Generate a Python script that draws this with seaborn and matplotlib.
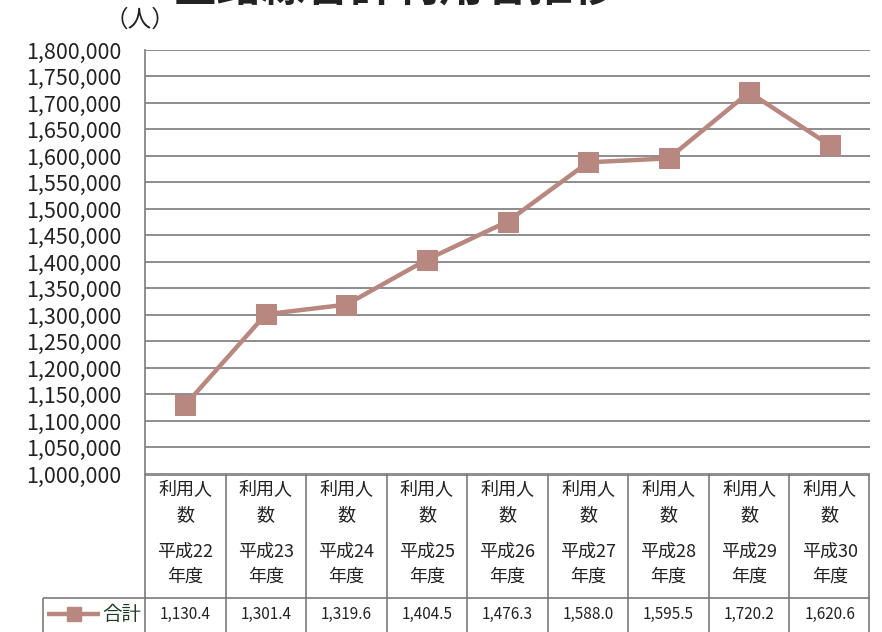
import matplotlib
matplotlib.use("Agg")
import matplotlib.pyplot as plt
from matplotlib.ticker import FuncFormatter
import seaborn as sns
import pandas as pd

# data
years = ["平成22\n年度", "平成23\n年度", "平成24\n年度", "平成25\n年度", "平成26\n年度",
         "平成27\n年度", "平成28\n年度", "平成29\n年度", "平成30\n年度"]
row_label = "利用人\n数"
riders = [1130400, 1301400, 1319600, 1404500, 1476300, 1588000, 1595500, 1720200, 1620600]
riders_text = ["1,130.4", "1,301.4", "1,319.6", "1,404.5", "1,476.3",
               "1,588.0", "1,595.5", "1,720.2", "1,620.6"]
y_ticks = list(range(1000000, 1800001, 50000))
series_name = "合計"
unit = "（人）"
title = "全路線合計利用者推移"

line_color = "#B8877F"
grid_color = "#858585"

sns.set_theme(style="white")
plt.rcParams['font.family'] = ['Noto Sans CJK JP', 'DejaVu Sans']

W, H = 882, 632
fig = plt.figure(figsize=(W / 100, H / 100), dpi=100)


def fx(px):
    return px / W


def fy(py):
    return 1 - py / H


# main plot
ax = fig.add_axes([fx(145), fy(474), (870 - 145) / W, (474 - 50) / H])
df = pd.DataFrame({"pos": range(len(riders)), "riders": riders})
sns.lineplot(data=df, x="pos", y="riders", marker="s", markersize=14, linewidth=3.2,
             color=line_color, markeredgecolor=line_color, ax=ax, zorder=3)
ax.set_xlim(-0.5, len(riders) - 0.5)
ax.set_ylim(y_ticks[0], y_ticks[-1])
ax.set_yticks(y_ticks)
ax.yaxis.set_major_formatter(FuncFormatter(lambda v, p: f"{int(v):,}"))
ax.tick_params(axis='y', length=0, pad=17, labelsize=15.5, labelcolor="#222222")
ax.set_xticks([])
ax.set_xlabel("")
ax.set_ylabel("")
ax.grid(axis='y', color=grid_color, linewidth=1.3)
for s in ["top", "right", "bottom"]:
    ax.spines[s].set_visible(False)
ax.spines["left"].set_color(grid_color)
ax.spines["left"].set_linewidth(1.3)

# data table under the plot
col_w = (870 - 145) / len(riders)
left_x = -0.5 - (145 - 42) / col_w
tab = fig.add_axes([fx(42), 0, (870 - 42) / W, (632 - 474) / H])
tab.set_xlim(left_x, len(riders) - 0.5)
tab.set_ylim(632, 474)
tab.axis("off")

tcol = "#7a7a7a"
tab.hlines(474.5, -0.5, len(riders) - 0.5, color=tcol, lw=1.2)
tab.hlines(598, left_x + 0.01, len(riders) - 0.5, color=tcol, lw=1.2)
for i in range(len(riders) + 1):
    xb = i - 0.5 if i < len(riders) else len(riders) - 0.51
    tab.vlines(xb, 474, 632, color=tcol, lw=1.2)
tab.vlines(left_x + 0.01, 598, 632, color=tcol, lw=1.2)

for i, (yr, txt) in enumerate(zip(years, riders_text)):
    tab.text(i, 503, row_label, ha="center", va="center", fontsize=13,
             linespacing=1.5, color="#222222")
    tab.text(i, 564, yr, ha="center", va="center", fontsize=13,
             linespacing=1.5, color="#222222")
    tab.text(i, 614, txt, ha="center", va="center", fontsize=11, color="#222222")

# legend key in the table
lx0 = -0.5 - (145 - 47) / col_w
lx1 = -0.5 - (145 - 100) / col_w
tab.plot([lx0, lx1], [614, 614], color=line_color, lw=3.2, solid_capstyle="butt")
tab.plot([(lx0 + lx1) / 2], [614], marker="s", markersize=10, color=line_color)
tab.text(lx1 + 0.03, 614, series_name, ha="left", va="center", fontsize=14,
         color="#1f3d26")

# unit and (cut off) title
fig.text(fx(140), fy(20), unit, ha="center", va="center", fontsize=17, color="#222222")
fig.text(fx(395), fy(12), title, ha="center", va="bottom", fontsize=32,
         fontweight="bold", color="#222222")

fig.savefig("out.png", dpi=100)
